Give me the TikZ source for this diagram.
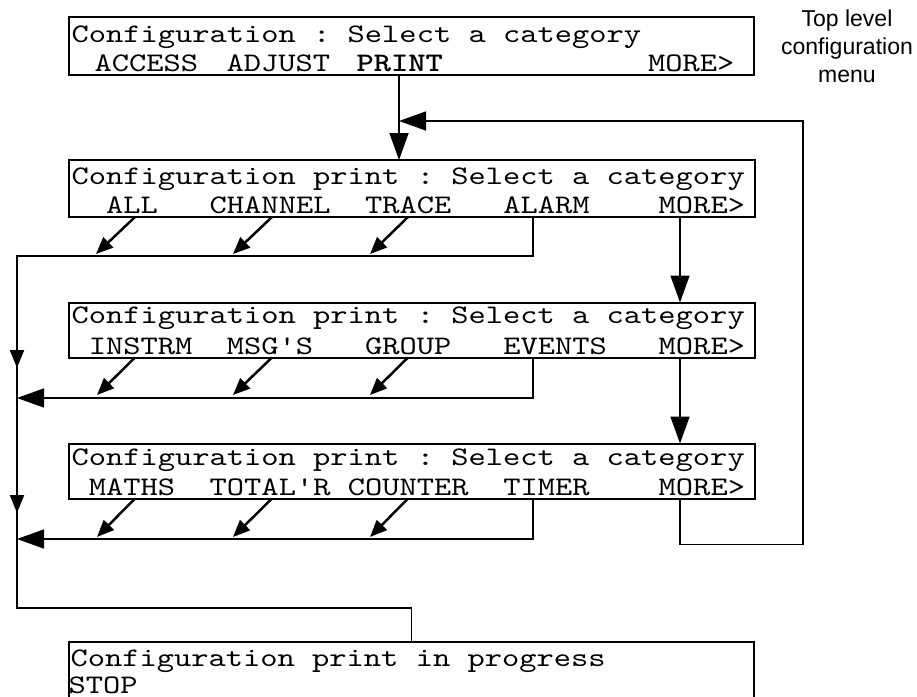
\documentclass[tikz,border=0pt]{standalone}
\usepackage{fontspec}
\usetikzlibrary{arrows.meta}
\setsansfont{Liberation Sans}
\setmonofont{lmmono10-regular.otf}[BoldFont=lmmonolt10-bold.otf, FakeStretch=1.227]
\begin{document}
\begin{tikzpicture}[x=1pt,y=-1pt]
\tikzset{
 box/.style={draw, line width=2pt, inner sep=0pt, outer sep=0pt, rectangle},
 txt/.style={inner sep=0pt, outer sep=0pt, anchor=base west, font=\ttfamily\fontsize{26.8}{30}\selectfont},
 conn/.style={line width=1.5pt},
 bigarrow/.style={line width=1.5pt, -{Triangle[length=27pt,width=19pt]}},
 smallarrow/.style={line width=2pt, -{Triangle[length=18pt,width=14pt]}},
 diag/.style={line width=2.5pt, -{Triangle[length=17pt,width=14pt]}},
 note/.style={font=\sffamily\fontsize{23}{28}\selectfont, align=center, inner sep=0pt}
}
\useasboundingbox (0,0) rectangle (917,696);
\fill[white] (0,0) rectangle (917,696);
\clip (0,0) rectangle (917,696);

% boxes
\node[box, minimum width=685pt, minimum height=58pt] (b1) at (411.5,46) {};
\node[box, minimum width=686pt, minimum height=57pt] (b2) at (412,188.5) {};
\node[box, minimum width=686pt, minimum height=55pt] (b3) at (412,330) {};
\node[box, minimum width=686pt, minimum height=55pt] (b4) at (412,471) {};
\node[box, minimum width=685pt, minimum height=80pt] (b5) at (411.5,682) {};

% box 1 text
\node[txt] (t1) at (71.5,42) {Configuration : Select a category};
\node[txt] (w11) at (94.5,71) {ACCESS};
\node[txt] (w12) at (226.5,71) {ADJUST};
\node[txt] (w13) at (356.5,71) {\bfseries PRINT};
\node[txt] (w14) at (648,71) {MORE>};

% box 2 text
\node[txt] (t2) at (71.5,184) {Configuration print : Select a category};
\node[txt] (w21) at (106.0,213) {ALL};
\node[txt] (w22) at (209.7,213) {CHANNEL};
\node[txt] (w23) at (365.1,213) {TRACE};
\node[txt] (w24) at (503.3,213) {ALARM};
\node[txt] (w25) at (658.7,213) {MORE>};

% box 3 text
\node[txt] (t3) at (71.5,323) {Configuration print : Select a category};
\node[txt] (w31) at (88.8,354) {INSTRM};
\node[txt] (w32) at (226.9,354) {MSG'S};
\node[txt] (w33) at (365.1,354) {GROUP};
\node[txt] (w34) at (503.3,354) {EVENTS};
\node[txt] (w35) at (658.7,354) {MORE>};

% box 4 text
\node[txt] (t4) at (71.5,465) {Configuration print : Select a category};
\node[txt] (w41) at (88.8,495) {MATHS};
\node[txt] (w42) at (209.7,495) {TOTAL'R};
\node[txt] (w43) at (347.8,495) {COUNTER};
\node[txt] (w44) at (503.3,495) {TIMER};
\node[txt] (w45) at (658.7,495) {MORE>};

% box 5 text
\node[txt] (t5) at (70.5,666) {Configuration print in progress};
\node[txt] (w51) at (68.5,693) {STOP};

% note
\node[note, anchor=north] (lbl) at (847,10) {Top level\\configuration\\menu};

% coordinates
\coordinate (px) at (399,0);
\coordinate (mx) at (680,0);
\coordinate (ax) at (533,0);
\coordinate (pj) at (399,121);
\coordinate (fr) at (803,121);
\coordinate (c1) at (17,256);
\coordinate (c2) at (17,398);
\coordinate (c3) at (17,539);
\coordinate (c4) at (17,608);
\coordinate (v1s) at (17,320);
\coordinate (v1e) at (17,368);
\coordinate (v2s) at (17,467);
\coordinate (v2e) at (17,513);
\coordinate (d1) at (135,0);
\coordinate (d2) at (272,0);
\coordinate (d3) at (408,0);
\coordinate (a21) at (96,254);
\coordinate (a22) at (233,254);
\coordinate (a23) at (370,254);
\coordinate (a31) at (97,395);
\coordinate (a32) at (233,395);
\coordinate (a33) at (370,395);
\coordinate (a41) at (97,537);
\coordinate (a42) at (233,537);
\coordinate (a43) at (370,537);

% PRINT down
\draw[bigarrow] (b1.south -| px) -- (b2.north -| px);
% feedback from last MORE>
\draw[bigarrow] (b4.south -| mx) -- ++(0,46) -| (fr) -- (pj);
% MORE> arrows
\draw[bigarrow] (b2.south -| mx) -- (b3.north -| mx);
\draw[bigarrow] (b3.south -| mx) -- (b4.north -| mx);
% ALARM line and left bus to bottom box
\draw[conn] (b2.south -| ax) |- (c1) -- (c4) -| (b5.north);
\draw[smallarrow] (v1s) -- (v1e);
\draw[smallarrow] (v2s) -- (v2e);
% EVENTS and TIMER
\draw[bigarrow] (b3.south -| ax) |- (c2);
\draw[bigarrow] (b4.south -| ax) |- (c3);
% diagonal arrows
\draw[diag] (b2.south -| d1) -- (a21);
\draw[diag] (b2.south -| d2) -- (a22);
\draw[diag] (b2.south -| d3) -- (a23);
\draw[diag] (b3.south -| d1) -- (a31);
\draw[diag] (b3.south -| d2) -- (a32);
\draw[diag] (b3.south -| d3) -- (a33);
\draw[diag] (b4.south -| d1) -- (a41);
\draw[diag] (b4.south -| d2) -- (a42);
\draw[diag] (b4.south -| d3) -- (a43);
\end{tikzpicture}
\end{document}
